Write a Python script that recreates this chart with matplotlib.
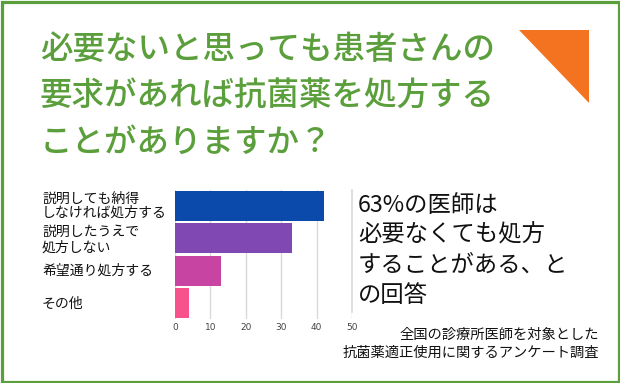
import matplotlib
matplotlib.use("Agg")
import matplotlib.pyplot as plt
from matplotlib.patches import Rectangle, Polygon

plt.rcParams['font.family'] = ['Noto Sans CJK JP', 'DejaVu Sans']

# data
categories = ['説明しても納得\nしなければ処方する', '説明したうえで\n処方しない', '希望通り処方する', 'その他']
values = [42, 33, 13, 4]
bar_colors = ['#0b4aab', '#8048b2', '#c844a2', '#f8528c']
x_ticks = [0, 10, 20, 30, 40, 50]

title_lines = ['必要ないと思っても患者さんの', '要求があれば抗菌薬を処方する', 'ことがありますか？']
note_lines = ['63%の医師は', '必要なくても処方', 'することがある、と', 'の回答']
source_lines = ['全国の診療所医師を対象とした', '抗菌薬適正使用に関するアンケート調査']

W, H = 620, 383
green = '#5b9f3c'

fig = plt.figure(figsize=(W / 100, H / 100), dpi=100)

def fy(y):
    return 1 - y / H

# frame
fig.patches.append(Rectangle((1.5 / W, 1.5 / H), 1 - 3 / W, 1 - 3 / H, transform=fig.transFigure,
                             fill=False, edgecolor=green, linewidth=2.3))
# orange triangle
fig.patches.append(Polygon([(519 / W, fy(30)), (589 / W, fy(30)), (589 / W, fy(103))],
                           closed=True, transform=fig.transFigure, facecolor='#f37321', edgecolor='none'))

# title
for i, line in enumerate(title_lines):
    fig.text(40 / W, fy(50 + i * 46.5), line, color=green, fontsize=23.4, fontweight='medium',
             va='center', ha='left')

# bar chart
ax = fig.add_axes([175 / W, fy(319), (352 - 175) / W, (319 - 190) / H])
ypos = list(range(len(categories)))
ax.barh(ypos, values, height=0.93, color=bar_colors, zorder=3)
ax.set_xlim(0, 50)
ax.set_ylim(len(categories) - 0.5, -0.5)
ax.set_xticks(x_ticks)
ax.set_xticklabels([str(t) for t in x_ticks], fontsize=6.5, color='#444444', family='DejaVu Sans')
ax.tick_params(axis='x', length=0, pad=3)
ax.set_yticks([])
ax.grid(axis='x', color='#d9d9d9', linewidth=1, zorder=0)
for s in ax.spines.values():
    s.set_visible(False)

# category labels
label_y = [(199, 213), (232, 248), (271,), (304,)]
for cat, ys in zip(categories, label_y):
    for part, y in zip(cat.split('\n'), ys):
        fig.text(42 / W, fy(y), part, fontsize=10, color='#111111', va='center', ha='left')

# note box
fig.lines.append(plt.Line2D([352 / W, 352 / W], [fy(190), fy(312)], transform=fig.transFigure,
                            color='#d9d9d9', linewidth=1.2))
for i, line in enumerate(note_lines):
    fig.text(358 / W, fy(205 + i * 30), line, fontsize=16.8, color='#111111', va='center', ha='left')

# source
for i, line in enumerate(source_lines):
    fig.text(599 / W, fy(335 + i * 18), line, fontsize=10.3, color='#111111', va='center', ha='right')

fig.savefig('out.png', dpi=100)
